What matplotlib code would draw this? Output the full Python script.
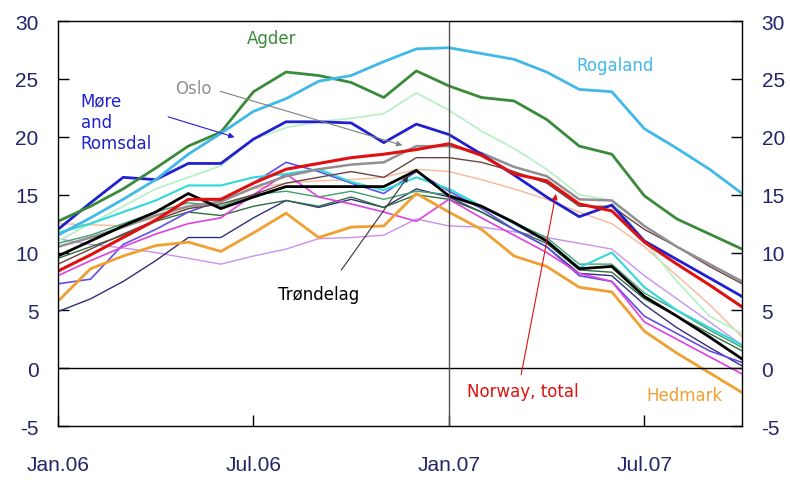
import numpy as np
import matplotlib.pyplot as plt

plt.rcParams['font.family'] = ['Liberation Sans', 'DejaVu Sans']
plt.rcParams['axes.unicode_minus'] = False

months = list(range(22))  # Jan.06 .. Oct.07
tick_pos = [0, 6, 12, 18]
tick_labels = ['Jan.06', 'Jul.06', 'Jan.07', 'Jul.07']

# regional series (12-month growth, %)
rogaland = [11.5, 13.0, 14.6, 16.3, 18.5, 20.3, 22.2, 23.3, 24.8, 25.3, 26.5, 27.6,
            27.7, 27.2, 26.7, 25.6, 24.1, 23.9, 20.7, 19.0, 17.2, 15.1]
agder = [12.7, 14.0, 15.5, 17.3, 19.2, 20.4, 23.9, 25.6, 25.3, 24.7, 23.4, 25.7,
         24.4, 23.4, 23.1, 21.5, 19.2, 18.5, 14.9, 12.9, 11.6, 10.3]
more_romsdal = [12.0, 14.3, 16.5, 16.3, 17.7, 17.7, 19.8, 21.3, 21.3, 21.2, 19.5, 21.1,
                20.2, 18.5, 16.7, 14.8, 13.1, 14.1, 11.0, 9.4, 7.8, 6.2]
norway = [8.4, 9.8, 11.3, 12.8, 14.6, 14.6, 16.0, 17.2, 17.7, 18.2, 18.5, 18.9,
          19.4, 18.4, 16.8, 16.2, 14.2, 13.6, 10.9, 9.0, 7.2, 5.3]
trondelag = [9.7, 11.0, 12.3, 13.5, 15.1, 13.8, 14.8, 15.7, 15.7, 15.7, 15.7, 17.1,
             14.9, 14.0, 12.6, 11.0, 8.6, 8.8, 6.2, 4.5, 2.7, 0.8]
hedmark = [5.8, 8.6, 9.7, 10.6, 10.9, 10.1, 11.7, 13.4, 11.3, 12.2, 12.3, 15.1,
           13.5, 12.0, 9.7, 8.8, 7.0, 6.6, 3.2, 1.3, -0.4, -2.1]
oslo = [10.5, 11.3, 12.2, 13.2, 14.0, 14.4, 15.6, 16.6, 17.2, 17.6, 17.8, 19.2,
        19.2, 18.6, 17.4, 16.6, 14.6, 14.5, 12.3, 10.5, 9.0, 7.5]
brown = [9.0, 10.3, 11.6, 12.8, 13.8, 14.2, 15.0, 16.0, 16.5, 17.0, 16.5, 18.2,
         18.2, 17.8, 17.0, 16.0, 14.0, 14.0, 12.0, 10.5, 8.8, 7.3]
mint = [11.0, 12.5, 14.0, 15.5, 16.5, 17.5, 19.8, 20.8, 21.3, 21.6, 22.0, 23.8,
        22.3, 20.5, 19.0, 17.2, 15.0, 14.5, 11.0, 7.5, 4.5, 3.0]
peach = [12.5, 12.4, 12.3, 13.0, 13.8, 14.5, 15.5, 16.0, 16.2, 16.3, 16.5, 17.2,
         17.0, 16.3, 15.5, 14.6, 13.5, 12.5, 10.5, 8.0, 5.5, 2.7]
turquoise = [11.7, 12.5, 13.5, 14.5, 15.8, 15.8, 16.5, 16.8, 17.2, 16.1, 15.4, 16.5,
             15.5, 14.0, 12.5, 11.0, 8.7, 10.0, 7.0, 5.0, 3.5, 2.0]
magenta = [8.0, 9.3, 10.5, 11.6, 12.5, 13.0, 15.0, 16.8, 14.8, 14.2, 13.5, 12.7,
           14.6, 13.0, 11.5, 10.0, 8.2, 7.5, 4.0, 2.5, 1.0, -0.5]
lavender = [11.2, 10.7, 10.4, 10.0, 9.5, 9.0, 9.7, 10.3, 11.2, 11.3, 11.5, 12.9,
            12.3, 12.2, 11.8, 11.3, 10.8, 10.3, 8.0, 6.0, 4.0, 2.0]
navy = [4.9, 6.0, 7.5, 9.3, 11.3, 11.3, 13.0, 14.5, 13.9, 14.6, 13.9, 15.5,
        14.8, 13.5, 12.0, 10.5, 8.2, 8.0, 5.5, 3.5, 1.8, 0.2]
violet = [7.3, 7.7, 10.7, 12.0, 13.5, 14.5, 16.0, 17.8, 17.0, 16.0, 15.1, 17.0,
          15.3, 13.8, 12.0, 10.5, 8.0, 7.5, 4.5, 3.0, 1.5, 0.5]
darkgreen = [9.5, 10.5, 11.5, 12.7, 13.5, 13.2, 14.0, 14.5, 14.0, 14.8, 13.9, 15.0,
             14.6, 13.5, 12.0, 10.8, 8.5, 8.3, 6.0, 4.5, 3.0, 1.5]
tealgreen = [10.8, 11.5, 12.5, 13.5, 14.3, 14.0, 15.0, 15.3, 14.8, 15.3, 14.6, 15.3,
             15.0, 14.0, 12.6, 11.3, 9.0, 9.0, 6.5, 5.0, 3.3, 1.8]

tick_col = '#24246a'

fig = plt.figure(figsize=(7.9, 4.81), dpi=100)
ax = fig.add_axes([0.0734, 0.112, 0.866, 0.842])

# thin background regions first, highlighted ones on top
thin = [
    (lavender, '#c890f0', 1.0),
    (peach, '#f8b898', 1.0),
    (mint, '#b8f0c8', 1.3),
    (navy, '#30307a', 1.0),
    (darkgreen, '#2f6f40', 1.0),
    (tealgreen, '#40a070', 1.0),
    (violet, '#6050e8', 1.2),
    (magenta, '#e040e0', 1.2),
    (turquoise, '#30d8d8', 1.5),
    (brown, '#6a4444', 1.0),
    (oslo, '#909090', 1.8),
]
for vals, col, lw in thin:
    ax.plot(months, vals, color=col, lw=lw)

ax.plot(months, hedmark, color='#f0a030', lw=2.0)
ax.plot(months, trondelag, color='black', lw=2.0)
ax.plot(months, more_romsdal, color='#2020d0', lw=2.0)
ax.plot(months, agder, color='#3a8a3a', lw=2.0)
ax.plot(months, rogaland, color='#40b8e8', lw=2.0)
ax.plot(months, norway, color='#e01010', lw=2.2)

ax.axhline(0, color='black', lw=1)
ax.axvline(12, color='#555555', lw=1)

ax.set_xlim(0, 21)
ax.set_ylim(-5, 30)
ax.set_xticks(tick_pos)
ax.set_xticklabels(tick_labels)
ax.set_yticks(range(-5, 31, 5))
ax.tick_params(axis='both', direction='in', length=8, width=1, colors='black',
               labelcolor=tick_col, labelsize=15)
ax.tick_params(axis='y', right=True, labelright=True, pad=14)
ax.tick_params(axis='x', pad=21)
for s in ax.spines.values():
    s.set_linewidth(1)

ann = dict(fontsize=12, family='DejaVu Sans', va='center')
ax.text(5.8, 28.5, 'Agder', color='#3a8a3a', **ann)
ax.text(15.9, 26.2, 'Rogaland', color='#40b8e8', **ann)
ax.text(3.6, 24.2, 'Oslo', color='#909090', **ann)
ax.annotate('', xy=(10.65, 19.2), xytext=(4.9, 24.0),
            arrowprops=dict(arrowstyle='-|>', color='#808080', lw=0.8, mutation_scale=8))
ax.text(0.7, 21.3, 'Møre\nand\nRomsdal', color='#2020d0', linespacing=1.25, **ann)
ax.annotate('', xy=(5.5, 19.9), xytext=(3.3, 21.8),
            arrowprops=dict(arrowstyle='-|>', color='#2020d0', lw=0.8, mutation_scale=8))
ax.text(8.0, 6.4, 'Trøndelag', color='black', ha='center', **ann)
ax.annotate('', xy=(10.8, 16.8), xytext=(8.65, 8.3),
            arrowprops=dict(arrowstyle='-|>', color='#333333', lw=0.8, mutation_scale=8))
ax.text(12.55, -2.0, 'Norway, total', color='#e01010', **ann)
ax.annotate('', xy=(15.3, 15.3), xytext=(14.2, -0.8),
            arrowprops=dict(arrowstyle='-|>', color='#e01010', lw=0.8, mutation_scale=8))
ax.text(18.05, -2.3, 'Hedmark', color='#f0a030', **ann)

fig.savefig('out.png', dpi=100)
